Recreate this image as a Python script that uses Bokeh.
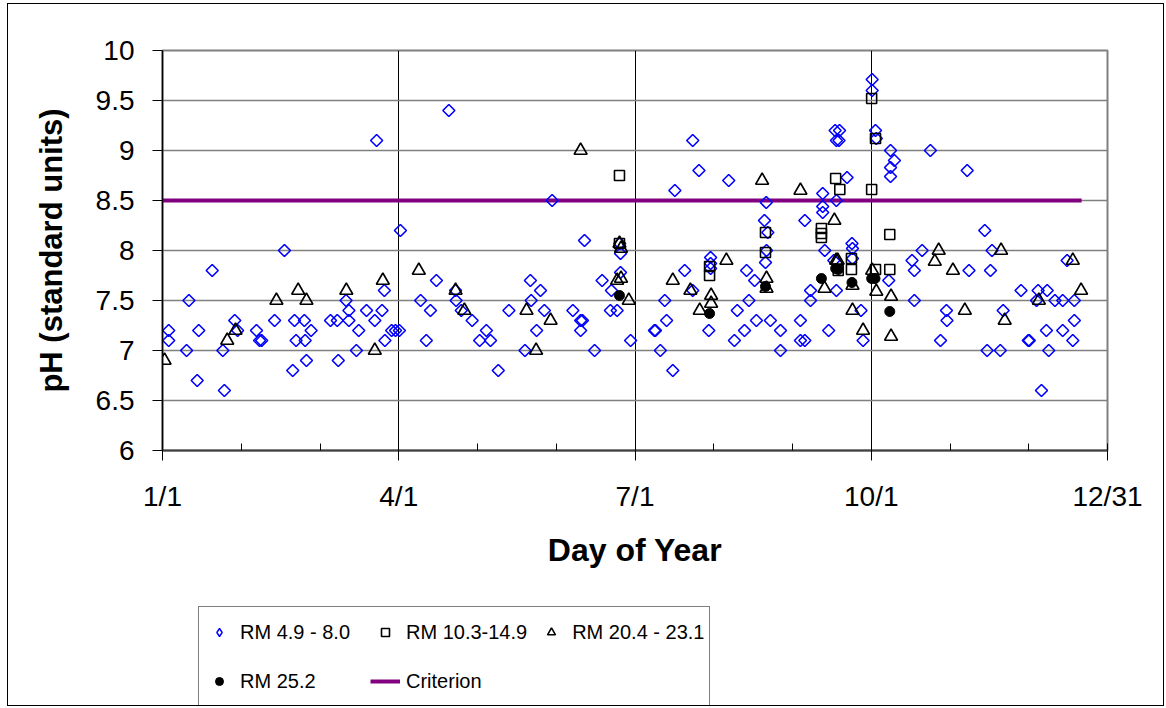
import math
from bokeh.plotting import figure
from bokeh.layouts import column
from bokeh.models import (Range1d, FixedTicker, CustomJSTickFormatter, Legend, LegendItem)
from bokeh.embed import file_html
from bokeh.resources import INLINE

# ---------------- data (day of year, pH) ----------------
rm_49_80_day = [2.4, 2.4, 9.3, 10.2, 13.4, 14.0, 19.2, 23.3, 23.9, 27.9, 29.0, 36.3, 37.5, 38.3, 43.3, 47.1,
                50.3, 51.0, 51.6, 54.8, 55.1, 55.6, 57.4,
                64.9, 67.5, 67.9, 70.9, 72.0, 72.0, 74.9, 75.8, 78.8, 82.0, 82.7, 84.8, 85.7, 85.9, 88.5,
                90.0, 91.5, 91.9, 99.7, 101.9, 103.5, 105.8, 110.6, 113.2, 113.4, 115.4, 119.6, 122.5,
                125.1, 126.7, 129.7, 133.8, 140.0, 142.1, 142.4, 144.5, 146.0, 147.5, 150.5, 158.5, 161.5,
                162.2, 161.5, 163.0, 166.9, 169.8, 173.0, 173.4, 175.6, 176.6, 176.9, 176.9, 180.8,
                190.0, 190.4, 192.3, 194.0, 194.7, 197.1, 197.9, 201.7, 204.8, 204.8, 207.2, 211.0, 211.7,
                211.7, 211.7, 218.7, 220.9, 222.0, 224.8, 225.6, 226.5, 228.7, 229.4, 232.5, 232.9, 233.2,
                233.8, 233.3, 234.8, 238.7, 238.7,
                246.4, 246.4, 248.1, 248.1, 250.3, 250.3, 255.0, 255.0, 255.0, 255.8, 257.3, 259.3, 260.3,
                260.3, 259.8, 261.5, 260.3, 261.3, 264.4, 266.3, 266.5, 266.5, 269.8, 270.6, 274.1, 274.1,
                275.4, 275.7, 280.5, 281.2, 282.7, 281.2, 281.2, 289.5, 290.4, 290.4, 293.4, 296.6, 300.5,
                302.8, 303.0,
                310.8, 311.5, 317.6, 318.5, 319.8, 320.4, 323.6, 324.7, 331.6, 334.4, 334.8, 337.6, 338.2,
                339.5, 341.4, 341.7, 342.3, 344.7, 347.7, 347.7, 349.4, 351.6, 352.2, 352.2]
rm_49_80_ph = [7.2, 7.1, 7.0, 7.5, 6.7, 7.2, 7.8, 7.0, 6.6, 7.3, 7.2, 7.2, 7.1, 7.1, 7.3, 8.0,
               6.8, 7.3, 7.1, 7.3, 7.1, 6.9, 7.2,
               7.3, 7.3, 6.9, 7.5, 7.4, 7.3, 7.0, 7.2, 7.4, 7.3, 9.1, 7.4, 7.6, 7.1, 7.2,
               7.2, 7.2, 8.2, 7.5, 7.1, 7.4, 7.7, 9.4, 7.6, 7.5, 7.4, 7.3, 7.1,
               7.2, 7.1, 6.8, 7.4, 7.0, 7.7, 7.5, 7.2, 7.6, 7.4, 8.5, 7.4, 7.3,
               7.3, 7.2, 8.1, 7.0, 7.7, 7.4, 7.6, 7.4, 8.07, 7.97, 7.78, 7.1,
               7.2, 7.2, 7.0, 7.5, 7.3, 6.8, 8.6, 7.8, 9.1, 7.6, 8.8, 7.2, 7.93,
               7.87, 7.82, 8.7, 7.1, 7.4, 7.2, 7.8, 7.5, 7.7, 7.3, 8.3, 7.88, 8.48,
               8.18, 8.0, 7.3, 7.2, 7.0,
               7.3, 7.1, 7.1, 8.3, 7.6, 7.5, 8.57, 8.44, 8.38, 8.0, 7.2, 7.9, 8.5,
               7.6, 9.2, 9.2, 9.1, 9.1, 8.73, 8.07, 8.02, 7.92, 7.4, 7.1, 9.71, 9.6,
               9.2, 9.12, 7.7, 9.0, 8.9, 8.83, 8.74, 7.9, 7.8, 7.5, 8.0, 9.0, 7.1,
               7.4, 7.3,
               8.8, 7.8, 8.2, 7.0, 7.8, 8.0, 7.0, 7.4, 7.6, 7.1, 7.1, 7.5, 7.6,
               6.6, 7.2, 7.6, 7.0, 7.5, 7.5, 7.2, 7.9, 7.1, 7.5, 7.3]

rm_103_149_day = [176.5, 176.5, 211.3, 211.3, 232.9, 232.9, 254.5, 254.5, 254.5, 260.0, 261.6, 261.0,
                  266.1, 266.1, 273.9, 275.4, 273.9, 280.9, 275.4, 280.9]
rm_103_149_ph = [8.75, 8.07, 7.84, 7.75, 8.18, 7.98, 8.22, 8.17, 8.13, 8.72, 8.61, 7.8,
                 7.92, 7.81, 9.52, 9.12, 8.61, 8.16, 7.81, 7.81]

rm_204_231_day = [0.8, 25.0, 28.2, 44.0, 52.4, 55.6, 71.0, 82.0, 85.1, 99.0, 113.2, 116.6, 140.6, 144.3,
                  149.9, 161.5, 175.6, 176.5, 177.1, 177.1, 180.1, 197.1, 203.9, 207.5, 211.9, 211.9,
                  217.8, 231.6, 233.3, 233.3, 246.4, 259.5, 260.2, 260.8, 255.7, 266.5, 266.5, 270.6,
                  274.1, 275.7, 281.4, 281.4, 299.8, 298.3, 305.3, 309.9, 323.9, 325.3, 338.5, 351.6, 354.8]
rm_204_231_ph = [6.9, 7.1, 7.2, 7.5, 7.6, 7.5, 7.6, 7.0, 7.7, 7.8, 7.6, 7.4, 7.4, 7.0,
                 7.3, 9.0, 7.7, 8.07, 8.02, 7.72, 7.5, 7.7, 7.6, 7.4, 7.55, 7.47,
                 7.9, 8.7, 7.72, 7.62, 8.6, 8.3, 7.9, 7.9, 7.62, 7.65, 7.4, 7.2,
                 7.8, 7.59, 7.54, 7.14, 8.0, 7.89, 7.8, 7.4, 8.0, 7.3, 7.5, 7.9, 7.6]

rm_252_day = [176.5, 211.3, 232.9, 254.5, 260.0, 261.0, 266.3, 273.9, 275.2, 280.9]
rm_252_ph = [7.55, 7.37, 7.64, 7.72, 7.82, 7.81, 7.68, 7.72, 7.72, 7.39]

criterion_day = [0, 355]
criterion_ph = [8.5, 8.5]

x_tick_days = [0, 91.25, 182.5, 273.75, 365]
x_tick_labels = ["1/1", "4/1", "7/1", "10/1", "12/31"]
y_ticks = [6, 6.5, 7, 7.5, 8, 8.5, 9, 9.5, 10]
series_names = ["RM 4.9 - 8.0", "RM 10.3-14.9", "RM 20.4 - 23.1", "RM 25.2", "Criterion"]

FONT = "Liberation Sans"

# styles
DIAMOND = dict(marker="square", angle=math.pi / 4, size=8.5, line_color="#0000FF", line_width=1.6,
               fill_color="white", fill_alpha=0)
DIAMOND_LEG = dict(marker="diamond", size=10, line_color="#0000FF", line_width=1.4,
                   fill_color="white", fill_alpha=0)
SQUARE = dict(marker="square", size=10, line_color="black", line_width=1.6, fill_color="white", fill_alpha=0)
TRIANGLE = dict(marker="triangle", size=13, line_color="black", line_width=1.6, fill_color="white", fill_alpha=0)
CIRCLE = dict(marker="circle", size=10, line_color="black", fill_color="black")
CRIT = dict(line_color="#800080", line_width=4)

p = figure(width=1155, height=590, output_backend="svg", toolbar_location=None,
           x_range=Range1d(0, 365), y_range=Range1d(6, 10),
           min_border_left=154, min_border_right=56, min_border_top=46, min_border_bottom=144,
           background_fill_color="white", border_fill_color="white")

p.outline_line_color = "#808080"
p.outline_line_width = 2

p.xaxis.ticker = FixedTicker(ticks=x_tick_days, minor_ticks=[i * 365 / 12 for i in range(13)])
p.xaxis.formatter = CustomJSTickFormatter(args=dict(tv=x_tick_days, tl=x_tick_labels), code="""
    for (let i = 0; i < tv.length; i++) { if (Math.abs(tv[i] - tick) < 1e-6) return tl[i]; }
    return "";
""")
p.yaxis.ticker = FixedTicker(ticks=y_ticks)
p.yaxis.formatter = CustomJSTickFormatter(code="return tick.toString();")

for ax in (p.xaxis[0], p.yaxis[0]):
    ax.major_label_text_font = FONT
    ax.major_label_text_font_size = "28px"
    ax.major_label_text_color = "black"
    ax.axis_label_text_font = FONT
    ax.axis_label_text_font_style = "bold"
    ax.axis_label_text_color = "black"
    ax.major_tick_out = 10
    ax.major_tick_in = 0
    ax.major_tick_line_color = "black"

p.xaxis.axis_label = "Day of Year"
p.yaxis.axis_label = "pH (standard units)"
p.xaxis.axis_label_text_font_size = "32px"
p.yaxis.axis_label_text_font_size = "31px"
p.xaxis.axis_line_color = "#404040"
p.xaxis.axis_line_width = 2
p.xaxis.minor_tick_in = 7
p.xaxis.minor_tick_out = 0
p.xaxis.minor_tick_line_color = "black"
p.xaxis.major_label_standoff = 20
p.xaxis.axis_label_standoff = 17
p.yaxis.axis_line_color = "black"
p.yaxis.axis_line_width = 1.5
p.yaxis.minor_tick_line_color = None
p.yaxis.major_label_standoff = 18
p.yaxis.axis_label_standoff = 24

p.xgrid.grid_line_color = "black"
p.xgrid.grid_line_width = 1
p.ygrid.grid_line_color = "#808080"
p.ygrid.grid_line_width = 1.5

p.line(criterion_day, criterion_ph, **CRIT)
p.scatter(rm_49_80_day, rm_49_80_ph, **DIAMOND)
p.scatter(rm_103_149_day, rm_103_149_ph, **SQUARE)
p.scatter(rm_204_231_day, rm_204_231_ph, **TRIANGLE)
p.scatter(rm_252_day, rm_252_ph, **CIRCLE)

# ---------------- legend panel (proxy renderers lie outside this panel's view) ----------------
pl = figure(width=1155, height=111, output_backend="svg", toolbar_location=None,
            x_range=Range1d(-2, -1), y_range=Range1d(-2, -1),
            min_border=0, background_fill_color="white", border_fill_color="white")
pl.axis.visible = False
pl.grid.visible = False
pl.outline_line_color = None

lr = [pl.scatter(rm_49_80_day, rm_49_80_ph, **DIAMOND_LEG),
      pl.scatter(rm_103_149_day, rm_103_149_ph, **SQUARE),
      pl.scatter(rm_204_231_day, rm_204_231_ph, **TRIANGLE),
      pl.scatter(rm_252_day, rm_252_ph, **CIRCLE),
      pl.line(criterion_day, criterion_ph, **CRIT)]

legend = Legend(items=[LegendItem(label=n, renderers=[r]) for n, r in zip(series_names, lr)],
                location=(36, -2), orientation="horizontal", ncols=3)
legend.label_text_font = FONT
legend.label_text_font_size = "20px"
legend.label_text_color = "black"
legend.glyph_width = 30
legend.glyph_height = 20
legend.label_height = 40
legend.label_width = 121
legend.label_standoff = 6
legend.spacing = 9
legend.padding = 5
legend.margin = 0
legend.border_line_color = "black"
legend.border_line_width = 1
legend.background_fill_color = "white"
legend.background_fill_alpha = 1
pl.add_layout(legend, "center")

layout = column(p, pl, spacing=0,
                styles={"border": "1px solid black", "margin": "3px 0px 0px 7px"})

open("out.html", "w").write(file_html(layout, INLINE))
